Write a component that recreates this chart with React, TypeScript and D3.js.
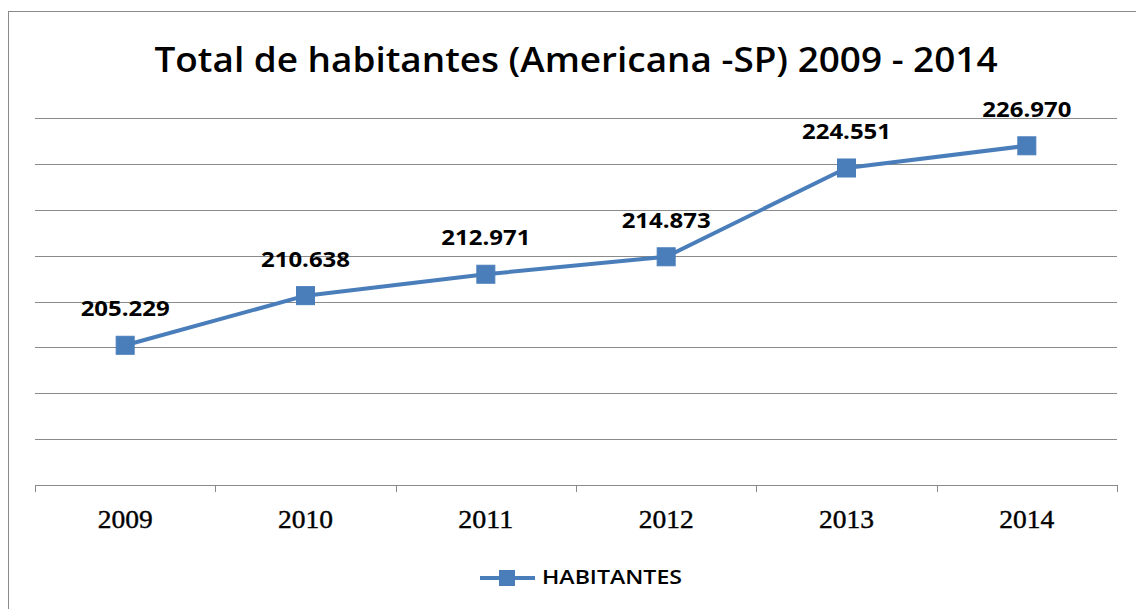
import React from "react";
import * as d3 from "d3";

const years = ["2009", "2010", "2011", "2012", "2013", "2014"];
const habitantes = [205229, 210638, 212971, 214873, 224551, 226970];
const labels = ["205.229", "210.638", "212.971", "214.873", "224.551", "226.970"];
const gridValues = [195000, 200000, 205000, 210000, 215000, 220000, 225000, 230000];
const title = "Total de habitantes (Americana -SP) 2009 - 2014";
const seriesName = "HABITANTES";

const W = 1136;
const H = 609;
const BLUE = "#4A7EBB";
const GRID = "#8a8a8a";

export default function App() {
  const x = d3.scaleBand<string>().domain(years).range([35, 1117]).padding(0);
  const y = d3.scaleLinear().domain([190000, 230000]).range([485, 118]);
  const cx = (d: string) => (x(d) as number) + x.bandwidth() / 2;
  const pts: [number, number][] = years.map((yr, i) => [cx(yr), y(habitantes[i])]);
  const line = d3.line<[number, number]>().x((d) => d[0]).y((d) => d[1]);
  const tickXs = [...years.map((d) => x(d) as number), 1117];
  const ms = 18;

  return (
    <svg
      width={W}
      height={H}
      style={{ position: "absolute", left: 0, top: 0, background: "#fff" }}
    >
      <rect x={0} y={0} width={W} height={H} fill="#fff" />
      <rect x={8.5} y={11.5} width={1300} height={800} fill="none" stroke={GRID} strokeWidth={1} />
      <text
        x={576}
        y={72}
        textAnchor="middle"
        fontFamily="'Open Sans', 'Noto Sans', sans-serif"
        fontWeight={600}
        fontSize={35}
        textLength={843}
        lengthAdjust="spacingAndGlyphs"
        fill="#000"
      >
        {title}
      </text>
      {gridValues.map((v) => (
        <line key={v} x1={35} x2={1117} y1={Math.round(y(v)) + 0.5} y2={Math.round(y(v)) + 0.5} stroke={GRID} strokeWidth={1} />
      ))}
      <line x1={35} x2={1117} y1={485.5} y2={485.5} stroke={GRID} strokeWidth={1} />
      {tickXs.map((t, i) => (
        <line key={i} x1={Math.round(t) + 0.5} x2={Math.round(t) + 0.5} y1={485} y2={492} stroke={GRID} strokeWidth={1} />
      ))}
      {years.map((yr) => (
        <text
          key={yr}
          x={cx(yr)}
          y={528}
          textAnchor="middle"
          fontFamily="'Liberation Serif', 'Times New Roman', serif"
          fontSize={26}
          textLength={55}
          lengthAdjust="spacingAndGlyphs"
          fill="#000"
          stroke="#000"
          strokeWidth={0.4}
        >
          {yr}
        </text>
      ))}
      <path d={line(pts) || ""} fill="none" stroke={BLUE} strokeWidth={4} strokeLinejoin="round" />
      {pts.map((p, i) => (
        <rect key={i} x={p[0] - ms / 2} y={p[1] - ms / 2} width={ms} height={ms} fill={BLUE} stroke={BLUE} strokeWidth={1} />
      ))}
      {pts.map((p, i) => (
        <text
          key={"l" + i}
          x={p[0]}
          y={p[1] - 29}
          textAnchor="middle"
          fontFamily="'Open Sans', 'Noto Sans', sans-serif"
          fontWeight="bold"
          fontSize={22}
          textLength={89}
          lengthAdjust="spacingAndGlyphs"
          fill="#000"
        >
          {labels[i]}
        </text>
      ))}
      <g>
        <line x1={480} x2={535} y1={578} y2={578} stroke={BLUE} strokeWidth={4} />
        <rect x={507 - 8} y={578 - 8} width={16} height={16} fill={BLUE} />
        <text
          x={542}
          y={584}
          fontFamily="'Open Sans', 'Noto Sans', sans-serif"
          fontWeight={600}
          fontSize={19.5}
          textLength={140}
          lengthAdjust="spacingAndGlyphs"
          fill="#000"
        >
          {seriesName}
        </text>
      </g>
    </svg>
  );
}
